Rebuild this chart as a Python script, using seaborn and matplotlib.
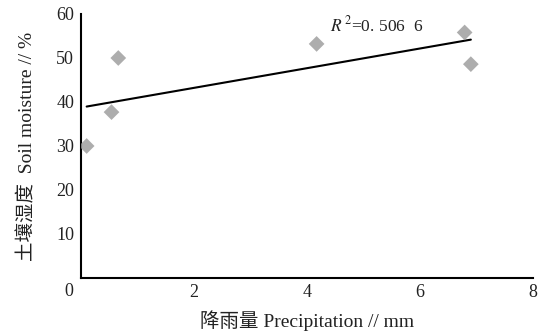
import matplotlib
matplotlib.use("Agg")
import matplotlib.pyplot as plt
import seaborn as sns
import numpy as np
import pandas as pd

# data
precip = [0.1, 0.54, 0.66, 4.17, 6.79, 6.9]
moisture = [30.0, 37.7, 50.0, 53.2, 55.8, 48.6]
x_ticks = [2, 4, 6, 8]
y_ticks = [10, 20, 30, 40, 50, 60]
r2_text = "0. 506  6"
x_label = "降雨量 Precipitation // mm"
y_label = "土壤湿度  Soil moisture // %"

sns.set_theme(style="white")
plt.rcParams['font.family'] = ['Liberation Serif', 'Noto Sans CJK SC']
plt.rcParams['mathtext.fontset'] = 'stix'

df = pd.DataFrame({"precip": precip, "moisture": moisture})

fig = plt.figure(figsize=(5.38, 3.35), dpi=100)
ax = fig.add_axes([81/538, 1-278/335, (533-81)/538, (278-14)/335])

sns.regplot(data=df, x="precip", y="moisture", ax=ax, ci=None, marker="D",
            scatter_kws=dict(s=64, color="#999999", edgecolor="none", zorder=3),
            line_kws=dict(color="black", lw=1.5, zorder=2))

ax.set_xlim(0, 8)
ax.set_ylim(0, 60)
ax.set_xticks(x_ticks)
ax.set_yticks(y_ticks)
ax.set_xticklabels([str(t) for t in x_ticks])
ax.set_yticklabels([str(t) for t in y_ticks])
ax.tick_params(axis='both', direction='in', length=4, width=1.3, color='black',
               labelsize=13, labelcolor='#222222')
ax.tick_params(axis='x', pad=4)
ax.tick_params(axis='y', pad=5)
for s in ['top', 'right']:
    ax.spines[s].set_visible(False)
for s in ['left', 'bottom']:
    ax.spines[s].set_color('black')
    ax.spines[s].set_linewidth(1.5)

# corner zero label
ax.annotate("0", xy=(0, 0), xytext=(-8.5, -10), textcoords='offset points',
            ha='center', va='center', fontsize=13, color='#222222',
            annotation_clip=False)

ax.text(4.4, 57.3, r"$R^{\,2}$=" + r2_text, fontsize=12.5, color='#222222',
        ha='left', va='center')

ax.set_xlabel(x_label, fontsize=14, color='#222222', labelpad=7)
ax.set_ylabel(y_label, fontsize=14, color='#222222', labelpad=14)

fig.savefig("out.png", dpi=100)
